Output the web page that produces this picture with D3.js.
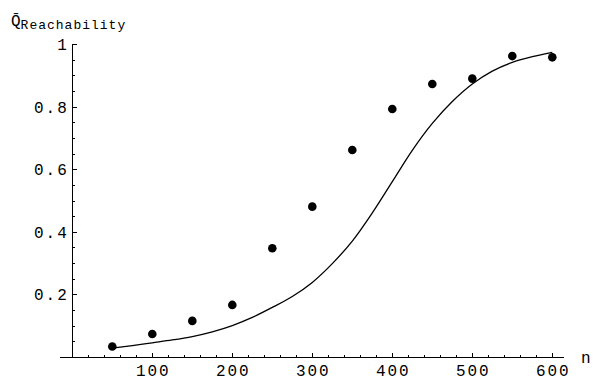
<!DOCTYPE html>
<meta charset="utf-8">
<style>

body {
  margin: 0;
  background: #fff;
}

text {
  font-family: "Liberation Mono", "DejaVu Sans Mono", monospace;
  fill: #000;
}

</style>
<svg></svg>
<script src="https://cdn.jsdelivr.net/npm/d3@7"></script>
<script>

var width = 597,
    height = 381;

// measured points
var pointN = [50, 100, 150, 200, 250, 300, 350, 400, 450, 500, 550, 600];
var pointQ = [0.035, 0.075, 0.117, 0.168, 0.349, 0.482, 0.663, 0.794, 0.874, 0.891, 0.963, 0.959];

// model curve, every 25
var curveN = [50, 75, 100, 125, 150, 175, 200, 225, 250, 275, 300, 325, 350, 375, 400, 425, 450, 475, 500, 525, 550, 575, 600];
var curveQ = [0.030, 0.038, 0.047, 0.056, 0.067, 0.082, 0.102, 0.128, 0.160, 0.195, 0.240, 0.300, 0.372, 0.462, 0.562, 0.662, 0.748, 0.818, 0.874, 0.915, 0.943, 0.961, 0.975];

var xMajor = [100, 200, 300, 400, 500, 600],
    yMajor = [0.2, 0.4, 0.6, 0.8, 1];
var xMinor = d3.range(20, 601, 20).filter(function(d) { return d % 100; }),
    yMinor = d3.range(1, 21).map(function(d) { return d * 0.05; });

var x = d3.scaleLinear()
    .domain([0, 600])
    .range([72.3, 552.3]);

var y = d3.scaleLinear()
    .domain([0, 1])
    .range([357.5, 44.5]);

var svg = d3.select("svg")
    .attr("width", width)
    .attr("height", height);

var axes = svg.append("g")
    .attr("stroke", "#000")
    .attr("shape-rendering", "crispEdges");

// x axis
axes.append("line")
    .attr("x1", 60).attr("x2", 564)
    .attr("y1", y(0)).attr("y2", y(0));

axes.selectAll(".xmaj")
  .data(xMajor)
  .enter().append("line")
    .attr("x1", function(d) { return x(d); })
    .attr("x2", function(d) { return x(d); })
    .attr("y1", y(0)).attr("y2", y(0) - 4.5);

axes.selectAll(".xmin")
  .data(xMinor)
  .enter().append("line")
    .attr("x1", function(d) { return x(d); })
    .attr("x2", function(d) { return x(d); })
    .attr("y1", y(0)).attr("y2", y(0) - 2.5);

// y axis
axes.append("line")
    .attr("x1", x(0)).attr("x2", x(0))
    .attr("y1", y(0)).attr("y2", y(1));

axes.selectAll(".ymaj")
  .data(yMajor)
  .enter().append("line")
    .attr("x1", x(0)).attr("x2", x(0) + 4.5)
    .attr("y1", function(d) { return y(d); })
    .attr("y2", function(d) { return y(d); });

axes.selectAll(".ymin")
  .data(yMinor)
  .enter().append("line")
    .attr("x1", x(0)).attr("x2", x(0) + 2.5)
    .attr("y1", function(d) { return y(d); })
    .attr("y2", function(d) { return y(d); });

// tick labels
svg.selectAll(".xlab")
  .data(xMajor)
  .enter().append("text")
    .attr("x", function(d) { return x(d) + 1; })
    .attr("y", 376)
    .attr("text-anchor", "middle")
    .style("font-size", "16px")
    .style("letter-spacing", "2px")
    .text(function(d) { return d; });

svg.selectAll(".ylab")
  .data(yMajor)
  .enter().append("text")
    .attr("x", x(0) - 3.5)
    .attr("y", function(d) { return y(d) + 5.5; })
    .attr("text-anchor", "end")
    .style("font-size", "16px")
    .style("letter-spacing", "2px")
    .text(function(d) { return d === 1 ? "1" : d3.format(".1f")(d); });

svg.append("text")
    .attr("x", 581)
    .attr("y", 363)
    .style("font-size", "16px")
    .text("n");

var title = svg.append("text")
    .attr("x", 11)
    .attr("y", 26)
    .style("font-size", "16px");
title.append("tspan").text("Q\u0304");
title.append("tspan")
    .attr("dy", 3)
    .style("font-size", "13px")
    .style("letter-spacing", "1px")
    .text("Reachability");

// model curve
var line = d3.line()
    .x(function(d, i) { return x(curveN[i]); })
    .y(function(d) { return y(d); })
    .curve(d3.curveCatmullRom);

svg.append("path")
    .datum(curveQ)
    .attr("d", line)
    .attr("fill", "none")
    .attr("stroke", "#000")
    .attr("stroke-width", 1.3);

// measured points
svg.selectAll("circle")
  .data(pointQ)
  .enter().append("circle")
    .attr("cx", function(d, i) { return x(pointN[i]); })
    .attr("cy", function(d) { return y(d); })
    .attr("r", 4.3)
    .attr("fill", "#000");

</script>
